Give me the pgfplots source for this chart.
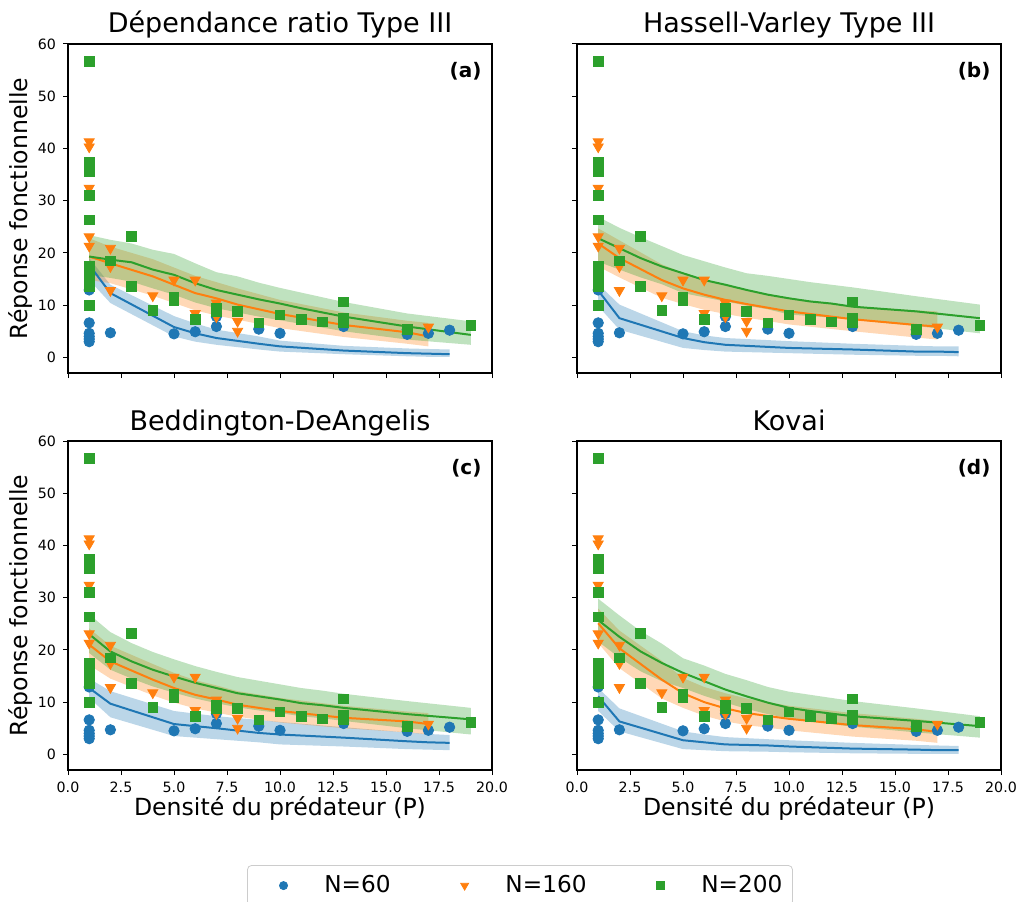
\documentclass[border=0pt]{standalone}
\usepackage{fontspec}
\setmainfont{DejaVu Sans}
\usepackage{pgfplots}
\pgfplotsset{compat=1.18}
\usepackage{pgfplotstable}
\usepgfplotslibrary{fillbetween}

\definecolor{c0}{HTML}{1F77B4}
\definecolor{c1}{HTML}{FF7F0E}
\definecolor{c2}{HTML}{2CA02C}

% observed points (same in every panel)
\pgfplotstableread{
x y
1 12.9
1 6.6
1 4.6
1 4.0
1 3.5
1 3.0
2 4.7
5 4.5
6 4.9
7 5.9
7 7.8
9 5.4
10 4.6
13 5.9
16 5.3
16 4.4
17 4.6
18 5.2
}\obsBlue
\pgfplotstableread{
x y
1 41.3
1 40.3
1 32.4
1 23.1
1 21.3
2 20.9
2 17.4
2 12.8
4 11.8
5 14.8
6 14.8
6 8.4
7 10.4
7 7.8
8 6.9
8 5.0
16 5.6
17 5.8
}\obsOrange
\pgfplotstableread{
x y
1 56.7
1 37.3
1 36.5
1 35.6
1 31.0
1 26.3
1 17.5
1 16.8
1 16.0
1 15.0
1 14.2
1 13.5
1 10.0
2 18.5
3 23.2
3 13.6
4 9.0
5 11.6
5 10.9
6 7.3
7 9.5
7 8.7
8 8.8
9 6.6
10 8.1
11 7.3
12 6.8
13 10.6
13 7.5
13 6.6
16 5.3
19 6.1
}\obsGreen

% fitted curves: x, mean, lower, upper
\pgfplotstableread{
x m lo hi
1 17.7 14.8 19.0
2 12.3 10.4 13.9
5 5.8 4.0 7.9
6 4.6 3.0 6.5
7 3.7 2.4 5.3
9 2.6 1.5 4.0
10 2.1 1.1 3.2
13 1.3 0.6 2.2
16 0.8 0.2 1.7
17 0.7 0.1 1.6
18 0.6 0.1 1.5
}\aBlue
\pgfplotstableread{
x m lo hi
1 19.3 14.8 22.8
2 18.0 14.2 21.2
4 15.5 11.8 18.8
5 13.9 10.4 17.2
6 12.3 9.0 15.6
7 11.3 8.0 14.4
8 10.1 7.2 13.2
10 8.3 5.6 11.0
13 6.2 3.9 8.6
16 4.8 2.6 7.0
17 4.0 2.1 6.6
}\aOrange
\pgfplotstableread{
x m lo hi
1 19.3 15.8 23.4
2 18.7 15.2 22.5
3 18.2 14.5 21.8
4 16.8 13.2 20.6
5 15.8 12.0 19.8
6 14.2 10.5 18.0
7 12.9 9.4 16.3
8 12.0 8.6 15.5
9 11.1 7.8 14.3
10 10.3 7.1 13.3
11 9.4 6.4 12.4
12 8.6 5.7 11.5
13 7.8 5.0 10.6
16 5.9 3.4 8.4
19 4.3 2.4 6.9
}\aGreen

\pgfplotstableread{
x m lo hi
1 12.8 9.8 14.0
2 7.5 5.3 10.1
5 3.7 1.8 5.0
6 2.9 1.4 4.2
7 2.4 1.1 3.7
9 2.0 0.9 3.3
10 1.8 0.8 3.1
13 1.5 0.5 2.6
16 1.1 0.3 2.2
17 1.1 0.3 2.1
18 1.0 0.2 2.1
}\bBlue
\pgfplotstableread{
x m lo hi
1 21.8 17.4 24.7
2 19.0 15.3 22.4
4 14.8 11.4 17.8
5 13.2 10.2 16.2
6 12.0 9.1 14.8
7 11.0 8.3 13.8
8 10.2 7.6 12.9
10 8.8 6.3 11.4
13 7.3 5.0 9.8
16 6.2 3.8 9.0
17 5.9 3.4 8.8
}\bOrange
\pgfplotstableread{
x m lo hi
1 22.8 18.3 26.9
2 20.9 16.8 24.8
3 19.0 15.3 23.0
4 17.4 14.0 21.3
5 16.1 12.3 19.6
6 14.8 11.5 18.4
7 13.9 10.7 17.2
8 12.9 9.9 16.1
9 12.0 9.2 15.6
10 11.3 8.2 15.0
11 10.7 7.9 14.4
12 10.3 7.6 13.9
13 9.7 7.2 13.4
16 8.8 6.0 11.7
19 7.5 4.6 10.1
}\bGreen

\pgfplotstableread{
x m lo hi
1 12.7 10.8 14.5
2 9.7 7.1 12.1
5 5.8 3.5 8.3
6 5.4 3.2 7.8
7 5.0 2.9 7.3
9 4.1 2.3 6.6
10 3.8 1.9 6.2
13 3.2 1.5 5.2
16 2.5 1.0 4.2
17 2.3 0.9 3.9
18 2.2 0.8 3.7
}\cBlue
\pgfplotstableread{
x m lo hi
1 21.0 17.1 24.1
2 17.8 14.5 20.8
4 14.3 11.3 17.3
5 12.7 9.9 15.6
6 11.4 8.8 14.2
7 10.5 8.0 13.2
8 9.5 7.2 12.1
10 8.3 6.1 10.8
13 7.0 5.0 9.3
16 6.3 4.2 8.2
17 5.8 3.8 7.9
}\cOrange
\pgfplotstableread{
x m lo hi
1 23.0 19.4 26.8
2 19.7 16.2 23.4
3 17.8 14.5 21.3
4 16.2 13.0 19.6
5 14.9 11.8 18.2
6 13.7 10.7 16.9
7 12.7 9.8 15.8
8 11.7 9.0 14.8
9 11.1 8.4 14.1
10 10.5 7.9 13.4
11 9.8 7.3 12.7
12 9.4 6.9 12.2
13 8.9 6.4 11.6
16 7.7 5.0 10.2
19 6.7 3.8 8.9
}\cGreen

\pgfplotstableread{
x m lo hi
1 11.1 8.3 12.7
2 6.3 4.4 8.8
5 2.7 1.0 4.4
6 2.3 0.8 3.8
7 1.9 0.6 3.3
9 1.7 0.5 2.9
10 1.5 0.4 2.7
13 1.1 0.2 2.2
16 0.9 0.1 1.8
17 0.8 0.1 1.7
18 0.8 0.1 1.6
}\dBlue
\pgfplotstableread{
x m lo hi
1 25.1 21.3 27.9
2 20.3 16.5 23.7
4 14.3 10.7 17.9
5 11.7 8.9 14.6
6 10.0 7.4 12.9
7 8.8 6.3 11.7
8 7.9 5.6 10.7
10 6.8 4.6 9.3
13 5.6 3.4 7.9
16 4.8 2.6 6.8
17 4.3 2.2 6.3
}\dOrange
\pgfplotstableread{
x m lo hi
1 25.7 21.6 29.8
2 22.5 18.5 26.6
3 19.7 15.9 23.6
4 17.5 14.0 21.2
5 15.6 12.7 18.4
6 14.0 11.2 17.0
7 12.4 9.9 15.4
8 11.1 8.7 14.2
9 9.9 7.7 12.9
10 8.9 6.9 12.0
11 8.3 6.3 11.4
12 7.8 5.8 10.8
13 7.3 5.3 10.2
16 6.4 4.2 8.8
19 5.4 3.2 7.3
}\dGreen

\newcommand\band[2]{%
  \addplot[draw=none, forget plot, name path=up] table[x=x, y=hi] {#1};
  \addplot[draw=none, forget plot, name path=dn] table[x=x, y=lo] {#1};
  \addplot[fill=#2, fill opacity=0.3, draw=none, forget plot] fill between[of=up and dn];
  \addplot[#2, line width=1pt, forget plot] table[x=x, y=m] {#1};
}
\newcommand\allseries[3]{%
  \addplot[only marks, mark=*, mark size=2.6pt, c0] table {\obsBlue};
  \band{#1}{c0}
  \addplot[only marks, mark=triangle*, mark size=2.9pt, c1, mark options={rotate=180}] table {\obsOrange};
  \band{#2}{c1}
  \addplot[only marks, mark=square*, mark size=2.4pt, c2] table {\obsGreen};
  \band{#3}{c2}
}

\pgfplotsset{
  panel/.style={
    scale only axis, width=212pt, height=164.5pt,
    anchor=south west,
    xmin=0, xmax=20, ymin=-3, ymax=60,
    xtick={0,2.5,...,20}, ytick={0,10,...,60},
    tick align=outside, xtick pos=left, ytick pos=left,
    major tick length=2.5pt,
    every tick/.style={black, line width=0.5pt},
    axis line style={line width=0.55pt},
    tick label style={font=\fontsize{7.1}{8}\selectfont},
    /pgf/number format/assume math mode=true,
    xticklabel style={/pgf/number format/.cd, fixed, fixed zerofill, precision=1},
    title style={font=\fontsize{13.5}{16}\selectfont, anchor=base, yshift=-0.5pt},
    every axis y label/.style={at={(axis description cs:-0.111,0.5)}, rotate=90, anchor=center, font=\fontsize{11.8}{14}\selectfont},
    every axis x label/.style={at={(axis description cs:0.5,-0.1368)}, anchor=base, font=\fontsize{11.8}{14}\selectfont},
  },
}
\tikzset{tag/.style={anchor=north east, inner sep=0pt, font=\bfseries\fontsize{10}{12}\selectfont}}

\begin{document}
\begin{tikzpicture}

\begin{axis}[panel, at={(34pt,264pt)}, title={Dépendance ratio Type III},
  xticklabels={}, ylabel={Réponse fonctionnelle}]
  \allseries{\aBlue}{\aOrange}{\aGreen}
  \node[tag] at (rel axis cs:0.976,0.945) {(a)};
\end{axis}

\begin{axis}[panel, at={(288.5pt,264pt)}, title={Hassell-Varley Type III},
  xticklabels={}, yticklabels={}]
  \allseries{\bBlue}{\bOrange}{\bGreen}
  \node[tag] at (rel axis cs:0.976,0.945) {(b)};
\end{axis}

\begin{axis}[panel, at={(34pt,65.5pt)}, title={Beddington-DeAngelis},
  ylabel={Réponse fonctionnelle}, xlabel={Densité du prédateur (P)},
  legend columns=3,
  legend image code/.code={%
    \path (-0.52cm,0) (0.64cm,0);
    \draw[#1, every mark/.append style={scale=0.78}] plot coordinates {(0cm,0cm)};},
  legend style={at={(1.066,-0.289)}, anchor=north, draw=black!20, rounded corners=2pt,
    font=\fontsize{11.6}{14}\selectfont, inner sep=3pt,
    /tikz/every even column/.append style={column sep=20pt}}]
  \allseries{\cBlue}{\cOrange}{\cGreen}
  \legend{N=60, N=160, N=200}
  \node[tag] at (rel axis cs:0.976,0.945) {(c)};
\end{axis}

\begin{axis}[panel, at={(288.5pt,65.5pt)}, title={Kovai},
  yticklabels={}, xlabel={Densité du prédateur (P)}]
  \allseries{\dBlue}{\dOrange}{\dGreen}
  \node[tag] at (rel axis cs:0.976,0.945) {(d)};
\end{axis}

\pgfresetboundingbox
\path[use as bounding box] (0,0) rectangle (508pt,450.5pt);
\end{tikzpicture}
\end{document}
